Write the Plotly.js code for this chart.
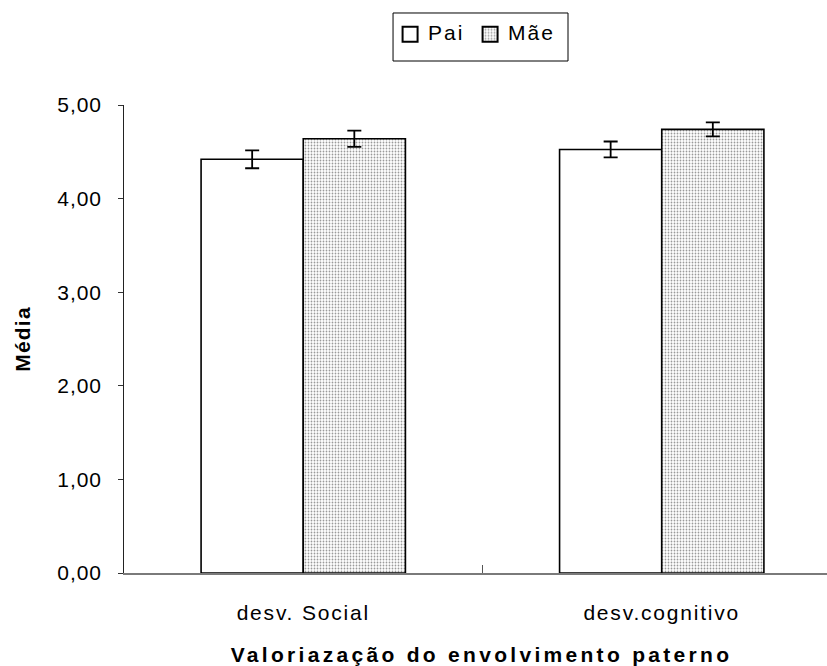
<!DOCTYPE html>
<html>
<head>
<meta charset="utf-8">
<script src="https://cdn.plot.ly/plotly-3.0.1.min.js"></script>
<style>
html,body{margin:0;padding:0;background:#fff;}
#chart{width:827px;height:666px;}
.xtick text{letter-spacing:1.8px;}
.ytick text{letter-spacing:0.9px;}
.g-xtitle text{letter-spacing:3.3px; transform: translateX(6px);}
.g-ytitle text{letter-spacing:1.2px;}
.legendtext{letter-spacing:2px;}
.legend .scrollbox{clip-path:none !important;}
.legend .legendpoints path{transform: translate(22px,2px) scale(1.25);}
</style>
</head>
<body>
<div id="chart"></div>
<script>
var categories = ["desv. Social", "desv.cognitivo"];
var paiValues = [4.42, 4.525];
var paiErrors = [0.096, 0.085];
var maeValues = [4.64, 4.74];
var maeErrors = [0.087, 0.075];
var yTicks = [0, 1, 2, 3, 4, 5];

var fontFam = "Liberation Sans, Arial, sans-serif";

var traces = [
  {
    type: "bar", name: "Pai", x: categories, y: paiValues,
    error_y: {type: "data", array: paiErrors, visible: true, color: "#000", thickness: 1.8, width: 7},
    marker: {color: "#ffffff", line: {color: "#000", width: 1.6}}
  },
  {
    type: "bar", name: "Mãe", x: categories, y: maeValues,
    error_y: {type: "data", array: maeErrors, visible: true, color: "#000", thickness: 1.8, width: 7},
    marker: {color: "#ffffff", line: {color: "#000", width: 1.6},
      pattern: {shape: ".", fgcolor: "#9a9a9a", bgcolor: "#ffffff", size: 3, solidity: 0.28}}
  }
];

var layout = {
  width: 827, height: 666,
  margin: {l: 124, r: 0, t: 105, b: 93},
  paper_bgcolor: "#fff", plot_bgcolor: "#fff",
  font: {family: fontFam, size: 21, color: "#000"},
  separators: ",.",
  barmode: "group",
  bargap: 0.43,
  bargroupgap: 0,
  showlegend: true,
  legend: {
    orientation: "h", xref: "container", yref: "container",
    x: 0.566, xanchor: "center", y: 0.951, yanchor: "middle",
    borderwidth: 0, bgcolor: "rgba(0,0,0,0)",
    font: {family: fontFam, size: 21, color: "#000"},
    itemwidth: 30, entrywidth: 35
  },
  shapes: [
    {type: "rect", xref: "paper", yref: "paper",
     x0: 0.3827, x1: 0.6316, y0: 1.094, y1: 1.1966,
     line: {color: "#000", width: 1}, fillcolor: "rgba(0,0,0,0)"}
  ],
  xaxis: {
    type: "category",
    range: [-0.5, 1.461],
    showline: true, linecolor: "#7a7a7a", linewidth: 2,
    ticks: "inside", tickson: "boundaries", ticklen: 8, tickcolor: "#555", tickwidth: 1,
    showgrid: false, zeroline: false,
    ticklabelstandoff: 20,
    tickfont: {family: fontFam, size: 21},
    title: {text: "<b>Valoriazação do envolvimento paterno</b>", font: {family: fontFam, size: 21}, standoff: 24}
  },
  yaxis: {
    range: [0, 5],
    tickvals: yTicks,
    tickformat: ".2f",
    showline: true, linecolor: "#222", linewidth: 1,
    ticks: "outside", ticklen: 5, tickcolor: "#333",
    showgrid: false, zeroline: false,
    ticklabelstandoff: 12,
    tickfont: {family: fontFam, size: 21},
    title: {text: "<b>Média</b>", font: {family: fontFam, size: 21}, standoff: 20}
  }
};

Plotly.newPlot("chart", traces, layout, {displayModeBar: false, staticPlot: true});
</script>
</body>
</html>
